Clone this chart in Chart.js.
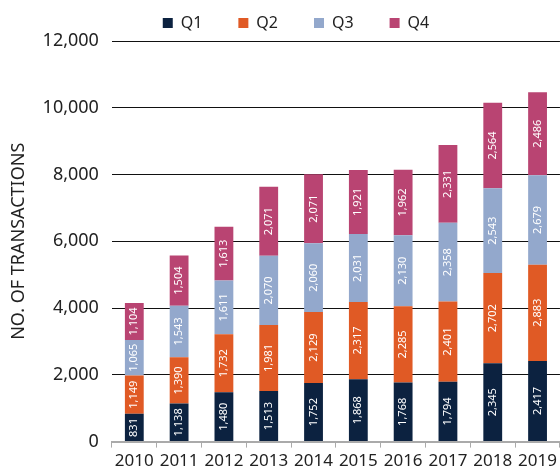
<!DOCTYPE html>
<html>
<head>
<meta charset="utf-8">
<script src="https://cdn.jsdelivr.net/npm/chart.js@4/dist/chart.umd.min.js"></script>
<style>
  html, body { margin: 0; padding: 0; background: #fff; }
  #wrap { width: 560px; height: 474px; }
</style>
</head>
<body>
<div id="wrap"><canvas id="myChart"></canvas></div>
<script>
const years = ["2010", "2011", "2012", "2013", "2014", "2015", "2016", "2017", "2018", "2019"];
const q1 = [831, 1138, 1480, 1513, 1752, 1868, 1768, 1794, 2345, 2417];
const q2 = [1149, 1390, 1732, 1981, 2129, 2317, 2285, 2401, 2702, 2883];
const q3 = [1065, 1543, 1611, 2070, 2060, 2031, 2130, 2358, 2543, 2679];
const q4 = [1104, 1504, 1613, 2071, 2071, 1921, 1962, 2331, 2564, 2486];

const FONT = "'Noto Sans', sans-serif";

// draw the value in each segment, turned on its side
const barLabels = {
  id: "barLabels",
  afterDatasetsDraw(chart) {
    const ctx = chart.ctx;
    ctx.save();
    ctx.fillStyle = "#ffffff";
    ctx.font = "11px " + FONT;
    ctx.textAlign = "center";
    ctx.textBaseline = "middle";
    chart.data.datasets.forEach((ds, i) => {
      chart.getDatasetMeta(i).data.forEach((bar, j) => {
        const y = (bar.y + bar.base) / 2;
        ctx.save();
        ctx.translate(bar.x, y);
        ctx.rotate(-Math.PI / 2);
        ctx.fillText(ds.data[j].toLocaleString("en-US"), 0, 0);
        ctx.restore();
      });
    });
    ctx.restore();
  }
};

// legend sits a bit right of centre in the original
const nudgeLegend = {
  id: "nudgeLegend",
  afterLayout(chart) {
    chart.legend.left += 14;
    chart.legend.right += 14;
  }
};

new Chart("myChart", {
  type: "bar",
  data: {
    labels: years,
    datasets: [
      { label: "Q1", data: q1, backgroundColor: "#0c2240" },
      { label: "Q2", data: q2, backgroundColor: "#e05a25" },
      { label: "Q3", data: q3, backgroundColor: "#93a8cc" },
      { label: "Q4", data: q4, backgroundColor: "#b94472" }
    ]
  },
  options: {
    responsive: true,
    maintainAspectRatio: false,
    animation: false,
    datasets: { bar: { barPercentage: 0.5, categoryPercentage: 0.84 } },
    layout: { padding: { top: 4, right: 0, left: 4, bottom: 0 } },
    plugins: {
      legend: {
        display: true,
        labels: {
          boxWidth: 10,
          boxHeight: 10,
          padding: 11,
          color: "#222",
          font: { family: FONT, size: 16 },
          generateLabels(chart) {
            const items = Chart.defaults.plugins.legend.labels.generateLabels(chart);
            items.forEach((it, i) => {
              if (i < items.length - 1) it.text = it.text + "      ";
            });
            return items;
          }
        }
      },
      tooltip: { enabled: false }
    },
    scales: {
      x: {
        stacked: true,
        grid: {
          offset: true,
          drawOnChartArea: false,
          drawTicks: true,
          tickLength: 6,
          color: "#aaa"
        },
        border: { color: "#aaa", width: 2 },
        ticks: {
          color: "#222",
          font: { family: FONT, size: 17 },
          padding: 3,
          maxRotation: 0,
          minRotation: 0,
          autoSkip: false
        }
      },
      y: {
        stacked: true,
        min: 0,
        max: 12000,
        grid: { color: "#111", lineWidth: 1, drawTicks: false },
        border: { display: false },
        ticks: {
          stepSize: 2000,
          padding: 13,
          color: "#222",
          font: { family: FONT, size: 18 },
          callback: v => v.toLocaleString("en-US")
        },
        title: {
          display: true,
          text: "NO. OF TRANSACTIONS",
          color: "#222",
          font: { family: FONT, size: 18 },
          padding: { top: 4, bottom: 0 }
        }
      }
    }
  },
  plugins: [barLabels, nudgeLegend]
});
</script>
</body>
</html>
